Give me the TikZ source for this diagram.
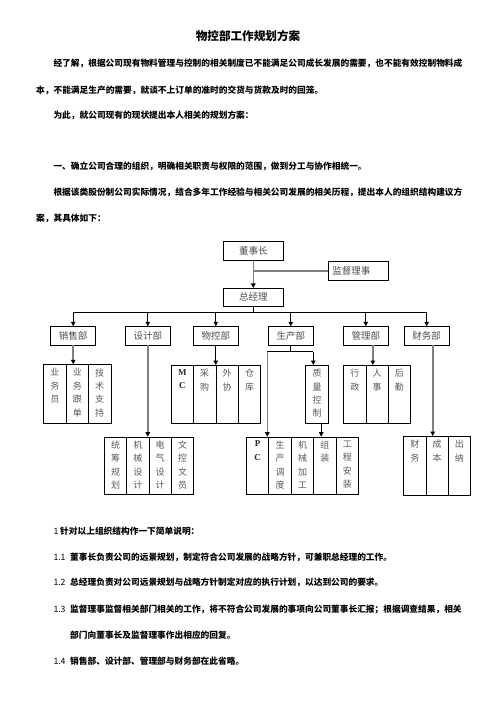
\documentclass[tikz,border=0pt]{standalone}
\usepackage{fontspec}
\setmainfont{Noto Sans CJK SC}
\newfontfamily\lser{Liberation Serif}
\usetikzlibrary{arrows.meta}
\begin{document}
\begin{tikzpicture}[x=1pt,y=-1pt,
  body/.style={anchor=base west,yshift=-3.2pt,inner sep=0pt,font=\bfseries\fontsize{8.7}{10}\selectfont},
  num/.style={anchor=base west,yshift=-3.2pt,inner sep=0pt,font=\fontsize{8.7}{10}\selectfont},
  box/.style={draw=black,line width=0.8pt,inner sep=0pt,minimum height=18.3pt,font=\fontsize{9.5}{10}\selectfont,text=black!70},
  dept/.style={box,minimum width=45pt},
  cellbox/.style={draw=black,line width=0.8pt,inner sep=0pt,minimum width=22.4pt,anchor=north west},
  vtext/.style={anchor=north,inner sep=0pt,align=center,text=black!65,font=\fontsize{9}{13.4}\selectfont},
  gline/.style={draw=black!50,line width=1.6pt},
  bline/.style={draw=black,line width=0.7pt},
  tip/.style={-{Triangle[length=4.5pt,width=4.5pt,color=black]}}
]
\useasboundingbox (0,0) rectangle (496,702);

% ---- text ----
\node[inner sep=0pt,font=\bfseries\fontsize{11.6}{12}\selectfont] (title) at (248,36) {物控部工作规划方案};
\node[body] (l1) at (53.3,63.3) {经了解，根据公司现有物料管理与控制的相关制度已不能满足公司成长发展的需要，也不能有效控制物料成};
\node[body] (l2) at (36,90) {本，不能满足生产的需要，就谈不上订单的准时的交货与货款及时的回笼。};
\node[body] (l3) at (53.3,115.7) {为此，就公司现有的现状提出本人相关的规划方案：};
\node[body] (l4) at (53.3,166.7) {一、确立公司合理的组织，明确相关职责与权限的范围，做到分工与协作相统一。};
\node[body] (l5) at (53.3,192.7) {根据该类股份制公司实际情况，结合多年工作经验与相关公司发展的相关历程，提出本人的组织结构建议方};
\node[body] (l6) at (36,218) {案，其具体如下：};

\node[num] (b0n) at (53.3,531.7) {1};
\node[body] (b0) at (60,531.7) {针对以上组织结构作一下简单说明：};
\node[num] (n1) at (53.3,557.3) {1.1};
\node[body] (t1) at (70,557.3) {董事长负责公司的远景规划，制定符合公司发展的战略方针，可兼职总经理的工作。};
\node[num] (n2) at (53.3,582.3) {1.2};
\node[body] (t2) at (70,582.3) {总经理负责对公司远景规划与战略方针制定对应的执行计划，以达到公司的要求。};
\node[num] (n3) at (53.3,609) {1.3};
\node[body] (t3) at (70,609) {监督理事监督相关部门相关的工作，将不符合公司发展的事项向公司董事长汇报；根据调查结果，相关};
\node[body] (t3b) at (70,635) {部门向董事长及监督理事作出相应的回复。};
\node[num] (n4) at (53.3,661) {1.4};
\node[body] (t4) at (70,661) {销售部、设计部、管理部与财务部在此省略。};

% ---- top boxes ----
\node[box,minimum width=60pt] (dsz) at (253.3,251) {董事长};
\node[box,minimum width=60pt,text width=52pt,inner xsep=4pt,align=left] (jd) at (358.3,270.8) {监督理事};
\node[box,minimum width=60pt,minimum height=17.7pt] (zjl) at (253.3,297.2) {总经理};

\draw[gline,tip] (dsz.south) -- (zjl.north);
\draw[gline] (jd.west) -- (jd.west -| dsz.south);

% ---- departments ----
\node[dept] (xs) at (73.2,335.8) {销售部};
\node[dept] (sj) at (147.8,335.8) {设计部};
\node[dept] (wk) at (215.8,335.8) {物控部};
\node[dept] (sc) at (290.8,335.8) {生产部};
\node[dept] (gl) at (365.8,335.8) {管理部};
\node[dept] (cw) at (426.7,335.8) {财务部};

\coordinate (bus) at (253.3,312.7);
\draw[bline] (zjl.south) -- (bus);
\draw[bline] (xs.north |- bus) -- (cw.north |- bus);
\foreach \d in {xs,sj,wk,sc,gl,cw}{
  \draw[bline,tip] (\d.north |- bus) -- (\d.north);
}

% ---- sales group ----
\foreach \i/\t [count=\k] in {0/业\\务\\员,1/业\\务\\跟\\单,2/技\\术\\支\\持}{
  \node[cellbox,minimum height=59pt] (xs\k) at (43.3+22.4*\i,364.3) {};
  \node[vtext] (xs\k t) at ([yshift=-4pt]xs\k.north) {\t};
}
% ---- materials group ----
\node[cellbox,minimum height=58.3pt] (wk1) at (170.7,365) {};
\node[vtext,font=\lser\bfseries\fontsize{9}{13.4}\selectfont,text=black!85] (wk1t) at ([yshift=-4pt]wk1.north) {M\\C};
\foreach \i/\t [count=\k from 2] in {1/采\\购,2/外\\协,3/仓\\库}{
  \node[cellbox,minimum height=58.3pt] (wk\k) at (170.7+22.4*\i,365) {};
  \node[vtext] (wk\k t) at ([yshift=-4pt]wk\k.north) {\t};
}
% ---- quality ----
\node[cellbox,minimum width=23pt,minimum height=58.3pt] (zl) at (305.3,365) {};
\node[vtext] (zlt) at ([yshift=-4pt]zl.north) {质\\量\\控\\制};
% ---- admin group ----
\foreach \i/\t [count=\k] in {0/行\\政,1/人\\事,2/后\\勤}{
  \node[cellbox,minimum height=58.3pt] (gl\k) at (343.3+22.2*\i,365) {};
  \node[vtext] (gl\k t) at ([yshift=-4pt]gl\k.north) {\t};
}
% ---- design group ----
\foreach \i/\t [count=\k] in {0/统\\筹\\规\\划,1/机\\械\\设\\计,2/电\\气\\设\\计,3/文\\控\\文\\员}{
  \node[cellbox,minimum height=57.6pt] (sj\k) at (104+22.3*\i,436.7) {};
  \node[vtext] (sj\k t) at ([yshift=-4pt]sj\k.north) {\t};
}
% ---- production group ----
\node[cellbox,minimum height=57.6pt] (sc1) at (246,436.7) {};
\node[vtext,font=\lser\bfseries\fontsize{9}{13.4}\selectfont,text=black!85] (sc1t) at ([yshift=-4pt]sc1.north) {P\\C};
\foreach \i/\t [count=\k from 2] in {1/生\\产\\调\\度,2/机\\械\\加\\工,3/组\\装,4/工\\程\\安\\装}{
  \node[cellbox,minimum height=57.6pt] (sc\k) at (246+22.46*\i,436.7) {};
  \node[vtext] (sc\k t) at ([yshift=-4pt]sc\k.north) {\t};
}
% ---- finance group ----
\foreach \i/\t [count=\k] in {0/财\\务,1/成\\本,2/出\\纳}{
  \node[cellbox,minimum height=59pt] (cw\k) at (403.3+22.2*\i,436) {};
  \node[vtext] (cw\k t) at ([yshift=-4pt]cw\k.north) {\t};
}

% ---- connectors below departments ----
\draw[gline,tip] (xs.south) -- (xs.south |- xs2.north);
\draw[gline,tip] (sj.south) -- (sj.south |- sj3.north);
\draw[bline,tip] (wk.south) -- (wk.south |- wk3.north);
\draw[gline,tip] ([xshift=7pt]gl.south) -- ([xshift=7pt]gl.south |- gl2.north);
\draw[gline,tip] ([xshift=6pt]cw.south) -- ([xshift=6pt]cw.south |- cw2.north);

\coordinate (scj) at (290.8,351.7);
\coordinate (scl) at (267.3,351.7);
\coordinate (scr) at (313.3,351.7);
\draw[bline] (sc.south) -- (scj);
\draw[bline] (scl) -- (scr);
\draw[gline,tip] (scl) -- (scl |- sc2.north);
\draw[bline,tip] (scr) -- (scr |- zl.north);
\draw[bline,tip] ([xshift=4pt]zl.south) -- ([xshift=4pt]zl.south |- sc4.north);
\end{tikzpicture}
\end{document}
